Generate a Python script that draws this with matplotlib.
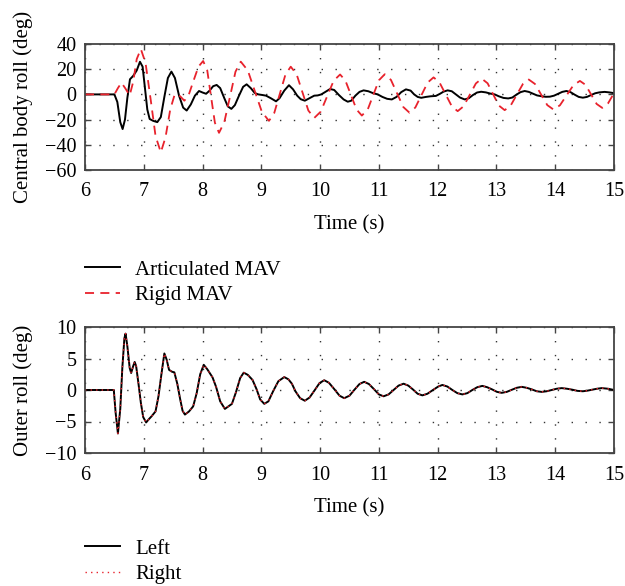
import matplotlib
matplotlib.use("Agg")
import matplotlib.pyplot as plt

# ---------------- data ----------------
art_t = [6.0, 6.5, 6.55, 6.60, 6.64, 6.68, 6.72, 6.765, 6.82, 6.88, 6.935, 6.98, 7.02, 7.06,
         7.10, 7.16, 7.23, 7.29, 7.35, 7.41, 7.47, 7.53, 7.60, 7.67, 7.73, 7.80, 7.87, 7.94,
         8.00, 8.06, 8.12, 8.18, 8.24, 8.30, 8.37, 8.43, 8.49, 8.55, 8.62, 8.69, 8.75, 8.82,
         8.89, 8.95, 9.02, 9.08, 9.16, 9.25, 9.31, 9.39, 9.47, 9.54, 9.61, 9.67, 9.74, 9.82,
         9.90, 9.96, 10.02, 10.09, 10.17, 10.24, 10.32, 10.40, 10.47, 10.53, 10.60, 10.67,
         10.74, 10.82, 10.90, 10.98, 11.06, 11.14, 11.22, 11.30, 11.38, 11.46, 11.54, 11.60,
         11.66, 11.72, 11.80, 11.88, 11.97, 12.04, 12.10, 12.17, 12.24, 12.31, 12.38, 12.46,
         12.53, 12.60, 12.67, 12.74, 12.82, 12.90, 12.97, 13.04, 13.12, 13.20, 13.27, 13.34,
         13.41, 13.48, 13.55, 13.62, 13.69, 13.76, 13.84, 13.91, 13.98, 14.05, 14.12, 14.19,
         14.26, 14.33, 14.40, 14.47, 14.54, 14.61, 14.68, 14.75, 14.84, 14.92, 15.0]
art_v = [0, 0, -6, -22, -27.5, -20, -3, 12, 14.7, 19, 25.9, 22, 5, -12,
         -19.5, -21, -22, -18, -2, 13, 18.1, 13, -1, -10.5, -12.8, -8, -1, 2.7,
         1.5, 0.5, 3, 6.5, 7.5, 5, -3, -9.5, -11.5, -8.5, -1, 6, 8, 5,
         1, 0, -0.5, -1, -3, -5.5, -3, 3, 7.3, 4, -1, -3.8, -5, -3,
         -1, -0.8, 0, 2, 4.3, 3.5, -0.5, -4, -5.8, -5, -1, 2,
         3.2, 2.5, 1, 0, -2, -3.5, -4, -2, 1.8, 4, 3, 0,
         -2, -2.7, -2, -1.5, -1.2, 0.5, 2.2, 3.2, 2.5, 0, -2.5, -4,
         -3, -0.5, 1.5, 2.1, 1.6, 0.6, 0, -1.5, -2.8, -3.2, -2.5, -0.2,
         1.8, 2.7, 2, 0.6, -0.8, -1.4, -1.9, -1.8, -1, 0.5, 2, 2.7,
         1.8, -0.2, -2, -2.6, -2, -0.5, 0.9, 1.6, 2, 1.6, 1.0]

rig_t = [6.0, 6.5, 6.56, 6.62, 6.69, 6.76, 6.82, 6.88, 6.95, 7.03, 7.12, 7.20, 7.29, 7.37,
         7.45, 7.52, 7.57, 7.63, 7.69, 7.76, 7.84, 7.93, 8.01, 8.08, 8.145, 8.21, 8.28, 8.37,
         8.465, 8.56, 8.65, 8.77, 8.89, 9.01, 9.13, 9.22, 9.315, 9.41, 9.50, 9.60, 9.70, 9.80,
         9.90, 10.01, 10.12, 10.23, 10.34, 10.43, 10.525, 10.62, 10.71, 10.81, 10.905, 11.0,
         11.10, 11.205, 11.31, 11.415, 11.52, 11.62, 11.725, 11.83, 11.93, 12.03, 12.135, 12.24,
         12.34, 12.44, 12.545, 12.65, 12.75, 12.85, 12.945, 13.04, 13.14, 13.24, 13.345, 13.45,
         13.55, 13.655, 13.76, 13.865, 13.97, 14.08, 14.195, 14.31, 14.42, 14.515, 14.61, 14.705,
         14.80, 14.90, 15.0]
rig_v = [0, 0, 5, 9.3, 4.5, -0.8, 10, 28, 36, 25, -5, -33, -46, -34,
         -12, -1, 0.5, -2, -5, -1, 10, 22, 26.5, 19, -2, -22.5, -30.5, -22,
         -2.2, 18, 26, 19, 2.5, -14, -21, -14.7, 0.5, 15.7, 22, 16, 1.6, -12.8,
         -18.7, -13.7, -1.5, 10.8, 15.8, 11.0, -0.5, -12.0, -16.8, -12.0, -0.4, 11.2,
         16, 11.5, 0.75, -10.0, -14.5, -10.4, -0.5, 9.4, 13.5, 9.6, 0.1, -9.4,
         -13.3, -9.5, -0.4, 8.7, 12.5, 8.8, 0, -8.8, -12.5, -9.0, -0.35, 8.25,
         11.8, 8.3, -0.1, -8.5, -12, -8.65, -0.65, 7.35, 10.7, 7.6, 0, -7.6,
         -10.7, -7, 1.0]

out_t = [6.0, 6.49, 6.52, 6.56, 6.60, 6.635, 6.67, 6.69, 6.72, 6.76, 6.785, 6.82, 6.845, 6.87,
         6.91, 6.95, 6.99, 7.04, 7.09, 7.13, 7.20, 7.25, 7.30, 7.35, 7.39, 7.43, 7.48, 7.52,
         7.57, 7.62, 7.66, 7.70, 7.77, 7.84, 7.90, 7.96, 8.02, 8.08, 8.17, 8.23, 8.30, 8.38,
         8.44, 8.50, 8.57, 8.64, 8.70, 8.77, 8.85, 8.92, 8.98, 9.05, 9.12, 9.20, 9.29, 9.39,
         9.46, 9.52, 9.58, 9.66, 9.74, 9.82, 9.91, 9.99, 10.07, 10.15, 10.24, 10.33, 10.41,
         10.50, 10.58, 10.67, 10.75, 10.83, 10.915, 11.0, 11.08, 11.165, 11.25, 11.335, 11.42,
         11.50, 11.58, 11.66, 11.74, 11.825, 11.92, 12.01, 12.08, 12.165, 12.25, 12.335, 12.42,
         12.505, 12.59, 12.675, 12.76, 12.84, 12.925, 13.01, 13.09, 13.175, 13.26, 13.345, 13.43,
         13.515, 13.60, 13.685, 13.77, 13.855, 13.94, 14.025, 14.11, 14.20, 14.29, 14.38, 14.47,
         14.55, 14.63, 14.71, 14.79, 14.9, 15.0]
left_v = [0, 0, -3.5, -6.9, -3, 3.5, 8.2, 8.95, 7, 3.5, 2.7, 3.8, 4.45, 3.8,
          1, -2, -4.3, -5.15, -4.6, -4.2, -3.4, -1, 2.5, 5.8, 4.8, 3.2, 2.9, 2.8,
          1, -1.5, -3.3, -3.9, -3.4, -2.6, -0.5, 2.5, 4, 3.3, 2.0, 0.5, -1.8, -3.0,
          -2.6, -2.2, -0.3, 1.9, 2.75, 2.4, 1.6, 0.1, -1.5, -2.2, -1.8, -0.2, 1.4, 2.05,
          1.7, 1.0, -0.2, -1.3, -1.7, -1.2, 0, 1.1, 1.55, 1.15, 0.15, -0.9, -1.3,
          -0.9, 0, 0.95, 1.3, 0.95, 0.15, -0.7, -1.0, -0.7, 0, 0.7, 1.0,
          0.7, 0.08, -0.6, -0.85, -0.6, 0, 0.55, 0.8, 0.55, 0, -0.5, -0.7,
          -0.5, 0, 0.45, 0.65, 0.45, 0.1, -0.3, -0.45, -0.3, 0.03, 0.35, 0.5,
          0.35, 0.1, -0.2, -0.3, -0.2, 0, 0.2, 0.3, 0.2, 0.05, -0.14, -0.2,
          -0.1, 0.05, 0.2, 0.3, 0.2, 0]
right_v = list(left_v)

x_ticks = [6, 7, 8, 9, 10, 11, 12, 13, 14, 15]
top_yticks = [-60, -40, -20, 0, 20, 40]
bot_yticks = [-10, -5, 0, 5, 10]

# ---------------- styling ----------------
plt.rcParams['font.family'] = ['Liberation Serif', 'DejaVu Serif']
FS = 14.5
FSL = 15
RED = '#e8222c'
FRAME = '#444444'

fig = plt.figure(figsize=(6.25, 5.86), dpi=100)
W, H = 625.0, 586.0
ax1 = fig.add_axes([85 / W, 1 - 170 / H, 529 / W, 126 / H])
ax2 = fig.add_axes([85 / W, 1 - 453 / H, 529 / W, 126 / H])


def style(ax, yticks, ylabel):
    ax.set_xlim(6, 15)
    ax.set_xticks(x_ticks)
    ax.set_yticks(yticks)
    ax.set_ylim(yticks[0], yticks[-1])
    ax.grid(True, color='#333333', linestyle=(0, (1, 9)), linewidth=1.0)
    ax.tick_params(direction='in', length=4, width=1.0, color=FRAME,
                   labelsize=FS, top=True, right=True)
    ax.tick_params(axis='x', pad=9)
    ax.tick_params(axis='y', pad=6)
    for s in ax.spines.values():
        s.set_color(FRAME)
        s.set_linewidth(1.3)
    ax.set_xlabel('Time (s)', fontsize=FSL, labelpad=10)
    ax.set_ylabel(ylabel, fontsize=FSL, labelpad=9)
    ax.set_axisbelow(True)


l1, = ax1.plot(art_t, art_v, color='black', lw=1.4, label='Articulated MAV')
l2, = ax1.plot(rig_t, rig_v, color=RED, lw=1.3, linestyle=(0, (5, 3.5)), label='Rigid MAV')
style(ax1, top_yticks, 'Central body roll (deg)')

l3, = ax2.plot(out_t, left_v, color='black', lw=1.4, label='Left')
l4, = ax2.plot(out_t, right_v, color=RED, lw=1.0, linestyle=(0, (1, 3)), label='Right')
style(ax2, bot_yticks, 'Outer roll (deg)')

for handles, top in (([l1, l2], 260), ([l3, l4], 539)):
    fig.legend(handles=handles, loc='upper left',
               bbox_to_anchor=(85 / W, 1 - top / H), frameon=False,
               fontsize=FSL, handlelength=1.7, handletextpad=0.7,
               borderpad=0, borderaxespad=0, labelspacing=0.3)

fig.savefig('out.png', dpi=100)
